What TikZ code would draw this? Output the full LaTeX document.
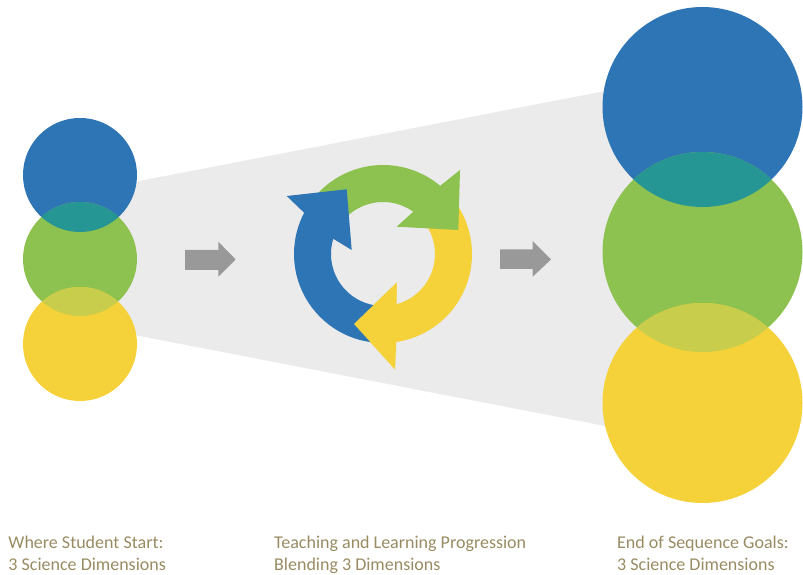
\documentclass[tikz,border=0pt]{standalone}
\usepackage{fontspec}
\setmainfont{Carlito}
\definecolor{dimblue}{RGB}{46,117,182}
\definecolor{dimgreen}{RGB}{141,193,80}
\definecolor{dimyellow}{RGB}{245,209,58}
\definecolor{dimteal}{RGB}{37,150,148}
\definecolor{dimlime}{RGB}{200,205,75}
\definecolor{funnel}{RGB}{235,235,235}
\definecolor{stepgray}{RGB}{153,153,153}
\definecolor{captioncol}{RGB}{152,139,98}
\begin{document}
\begin{tikzpicture}[x=1pt, y=1pt,
    captext/.style={anchor=base west, inner sep=0pt, text=captioncol, font=\fontsize{18}{22}\selectfont},
    pointer/.style={fill=stepgray}]
  \useasboundingbox (0,0) rectangle (803,575);

  % funnel behind the circles
  \fill[funnel] (80,382.5) -- (702,502.7) -- (702,130.3) -- (80,250.5) -- cycle;

  % start: small circles
  \coordinate (sB) at (80,400);
  \coordinate (sG) at (80,316);
  \coordinate (sY) at (80,231);
  \fill[dimblue] (sB) circle (57);
  \fill[dimgreen] (sG) circle (57);
  \fill[dimyellow] (sY) circle (57);
  \begin{scope}
    \clip (sB) circle (57);
    \fill[dimteal] (sG) circle (57);
  \end{scope}
  \begin{scope}
    \clip (sG) circle (57);
    \fill[dimlime] (sY) circle (57);
  \end{scope}

  % goals: large circles
  \coordinate (eB) at (702.5,468);
  \coordinate (eG) at (702.5,323);
  \coordinate (eY) at (702.5,172);
  \fill[dimblue] (eB) circle (100);
  \fill[dimgreen] (eG) circle (100);
  \fill[dimyellow] (eY) circle (100);
  \begin{scope}
    \clip (eB) circle (100);
    \fill[dimteal] (eG) circle (100);
  \end{scope}
  \begin{scope}
    \clip (eG) circle (100);
    \fill[dimlime] (eY) circle (100);
  \end{scope}

  % gray step arrows
  \fill[pointer] (185,305) -- (218.3,305) -- (218.3,298.3) -- (235.7,315.5)
    -- (218.3,333.3) -- (218.3,325) -- (185,325) -- cycle;
  \fill[pointer] (500,306) -- (532.7,306) -- (532.7,298.3) -- (551,315.5)
    -- (532.7,334) -- (532.7,325.7) -- (500,325.7) -- cycle;

  % cycle of three arrows around C
  \coordinate (C) at (383,321);
  \begin{scope}[shift={(C)}]
    \fill[dimyellow] (35:89) arc[start angle=35, end angle=-81.4, radius=89]
      -- (12,-115.3) -- (-29,-70) -- (13.7,-28.7)
      -- (-75:52) arc[start angle=-75, end angle=35, radius=52] -- cycle;
    \fill[dimgreen] (145:89) arc[start angle=145, end angle=50, radius=89]
      -- (77,84) -- (75.3,24) -- (13.7,27.3)
      -- (54.4:52) arc[start angle=54.4, end angle=145, radius=52] -- cycle;
    \fill[dimblue] (266:89) arc[start angle=266, end angle=152.4, radius=89]
      -- (-96.3,58) -- (-36.3,64.7) -- (-31.3,4)
      -- (163:52) arc[start angle=163, end angle=266, radius=52] -- cycle;
    % yellow head once more, over the blue tail
    \fill[dimyellow] (12,-115.3) -- (-29,-70) -- (13.7,-28.7) -- cycle;
  \end{scope}

  % captions
  \node[captext] (startA) at (8.3,26) {Where Student Start:};
  \node[captext] (startB) at (8.3,4.5) {3 Science Dimensions};
  \node[captext] (midA) at (274,26) {Teaching and Learning Progression};
  \node[captext] (midB) at (274,4.5) {Blending 3 Dimensions};
  \node[captext] (endA) at (617,26) {End of Sequence Goals:};
  \node[captext] (endB) at (617,4.5) {3 Science Dimensions};
\end{tikzpicture}
\end{document}
